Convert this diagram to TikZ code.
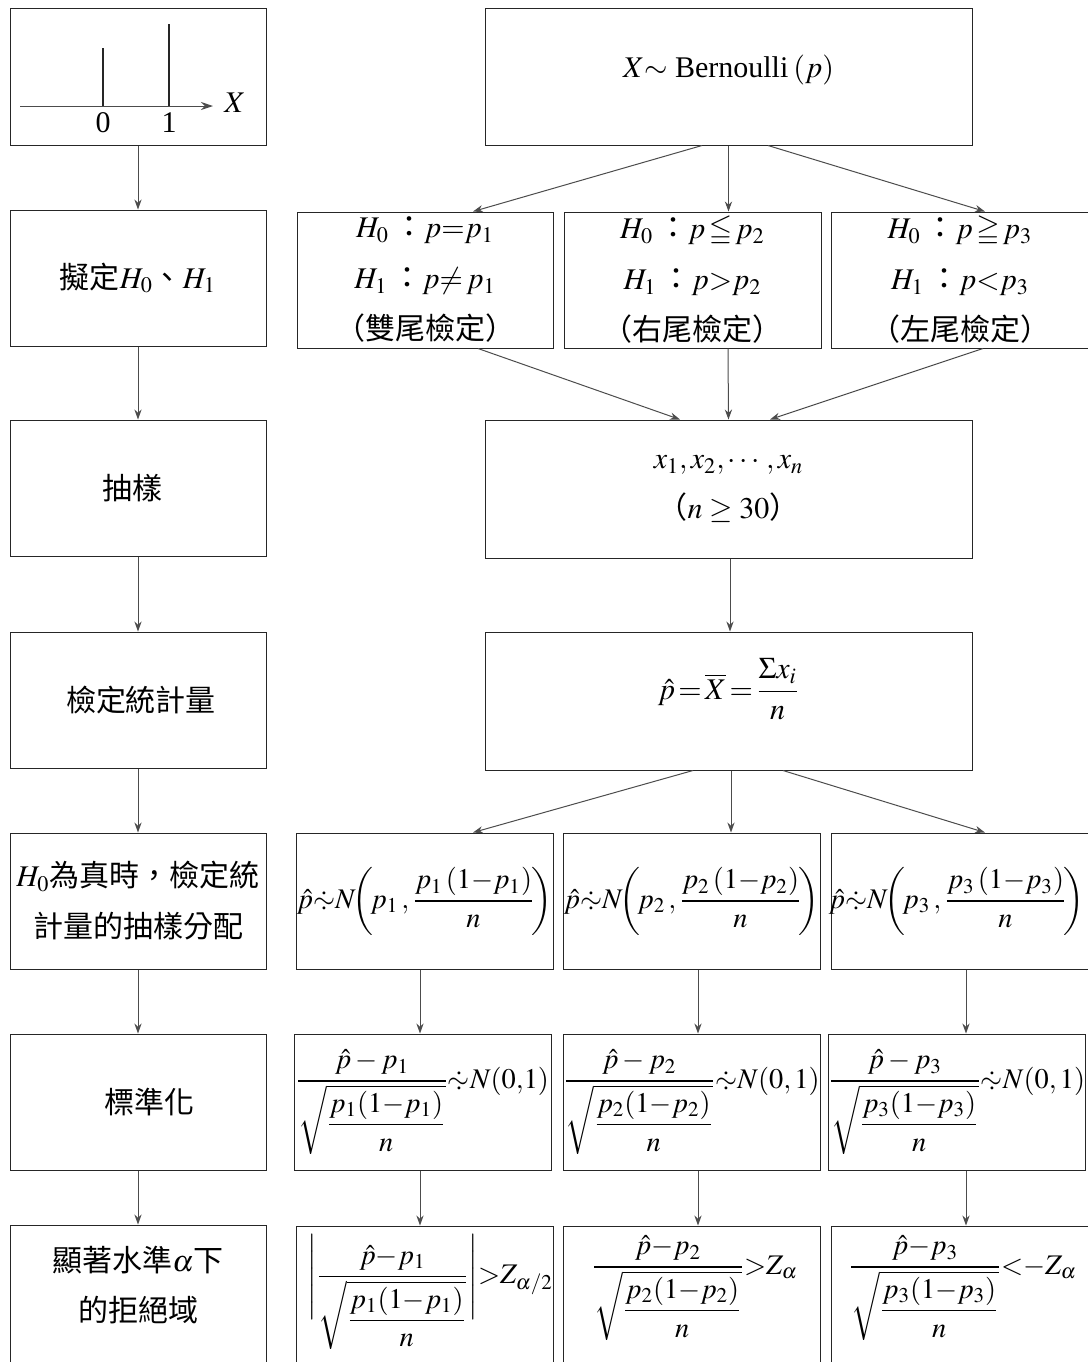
\documentclass[tikz,border=0pt]{standalone}
\usepackage{amsmath,amssymb}
\usepackage{mathptmx}
\usepackage{fontspec}
\setmainfont{Liberation Serif}
\newfontfamily\cjk{Noto Sans CJK TC}
\usetikzlibrary{arrows.meta,calc}
\newcommand{\zh}[1]{{\cjk #1}}
\newcommand{\apx}{\mathrel{\ooalign{$\sim$\cr\hidewidth\raisebox{.55ex}{$\cdot$}\hidewidth\cr\hidewidth\raisebox{-.55ex}{$\cdot$}\hidewidth\cr}}}
\tikzset{
  box/.style={draw=black!85, line width=0.5pt, minimum height=68pt, inner sep=0pt, align=center, font=\fontsize{15}{25.5}\selectfont},
  mbox/.style={box, font=\fontsize{14.2}{20}\selectfont},
  lbox/.style={box, minimum width=128pt},
  wbox/.style={box, minimum width=243.5pt},
  txt/.style={inner sep=0pt, align=center, font=\fontsize{15}{25}\selectfont},
  mtxt/.style={txt, font=\fontsize{14.2}{20}\selectfont},
  conn/.style={draw=black!70, line width=0.5pt, -{Stealth[length=5pt,width=3.6pt]}},
}
\begin{document}
\begin{tikzpicture}[x=0.5pt,y=-0.5pt]
\path[use as bounding box, clip] (0,0) rectangle (1088,1362);
% left column
\node[lbox, minimum height=68.5pt] (l1) at (138,76.5) {};
\node[lbox] (l2) at (138,278) {\zh{擬定}$H_0$\zh{、}$H_1$};
\node[lbox] (l3) at (138,488) {\hspace*{-6pt}\zh{抽樣}};
\node[lbox] (l4) at (138,700) {\hspace*{3pt}\zh{檢定統計量}};
\node[lbox] (l5) at (138,901) {$H_0$\zh{為真時，檢定統}\\\zh{計量的抽樣分配}};
\node[lbox] (l6) at (138,1102) {\hspace*{12pt}\zh{標準化}};
\node[lbox, minimum height=72pt] (l7) at (138,1297) {};
\node[txt] (l7t) at (138,1285) {\zh{顯著水準}$\alpha$\zh{下}\\\zh{的拒絕域}};
% distribution sketch
\draw[draw=black!70, line width=0.5pt, -{Stealth[length=6pt,width=4pt]}] (20,106) -- (213,106);
\draw[line width=0.6pt, black!85] (103,106) -- (103,48);
\draw[line width=0.6pt, black!85] (169,106) -- (169,24);
\node[txt] (z0) at (103,123) {0};
\node[txt] (z1) at (169,123) {1};
\node[txt] (xl) at (235,103) {$X$};
% right column
\node[wbox, minimum height=68.5pt] (r1) at (728.5,76.5) {\raisebox{0pt}[6pt][5pt]{$X{\sim}$ Bernoulli\,$(p)$}};
\node[box, minimum width=128pt] (a2) at (425,280) {$H_0$\,\zh{：}$p{=}p_1$\\$H_1$\,\zh{：}$p{\neq}\,p_1$\\\zh{\hspace*{4pt}（雙尾檢定）\hspace*{4pt}}};
\node[box, minimum width=128.5pt] (b2) at (692.5,280) {$H_0$\,\zh{：}$p\,{\leqq}\,p_2$\\$H_1$\,\zh{：}$p{>}p_2$\\\zh{\hspace*{4pt}（右尾檢定）\hspace*{4pt}}};
\node[box, minimum width=129pt] (c2) at (960,280) {$H_0$\,\zh{：}$p\,{\geqq}\,p_3$\\$H_1$\,\zh{：}$p{<}p_3$\\\zh{\hspace*{4pt}（左尾檢定）\hspace*{4pt}}};
\node[wbox, minimum height=69pt, font=\fontsize{15}{25}\selectfont] (r3) at (728.5,489) {$x_1, x_2, \cdots, x_n$\\\zh{\hspace*{4pt}（}$n\geq 30$\zh{）\hspace*{4pt}}};
\node[wbox, minimum height=69pt] (r4) at (728.5,701) {\raisebox{0pt}[8pt][9.8pt]{$\displaystyle\hat p\mkern2mu{=}\mkern2mu\overline{X}\mkern2mu{=}\mkern2mu\frac{\Sigma x_i}{n}$}};
\node[mbox, minimum width=128.5pt] (a5) at (424.5,901) {$\displaystyle\hat p{\apx}N\!\biggl(\!p_1\,,\frac{p_1\,(1{-}p_1)}{n}\!\biggr)$};
\node[mbox, minimum width=128.5pt] (b5) at (691.5,901) {$\displaystyle\hat p{\apx}N\!\biggl(\!p_2\,,\frac{p_2\,(1{-}p_2)}{n}\!\biggr)$};
\node[mbox, minimum width=129.5pt] (c5) at (960.5,901) {\hspace*{-4pt}$\displaystyle\hat p{\apx}N\!\biggl(\!p_3\,,\frac{p_3\,(1{-}p_3)}{n}\!\biggr)$};
\node[mbox, minimum width=128.5pt] (a6) at (422.5,1102) {$\displaystyle\frac{\hat p-p_1}{\sqrt{\dfrac{p_1(1{-}p_1)}{n}}}{\apx}N(0{,}1)$};
\node[mbox, minimum width=128.5pt] (b6) at (691.5,1102) {$\displaystyle\frac{\hat p-p_2}{\sqrt{\dfrac{p_2(1{-}p_2)}{n}}}{\apx}N(0,1)$};
\node[mbox, minimum width=128pt] (c6) at (957,1102) {$\displaystyle\frac{\hat p-p_3}{\sqrt{\dfrac{p_3(1{-}p_3)}{n}}}{\apx}N(0,1)$};
\node[box, minimum width=128.5pt, minimum height=72pt] (a7) at (424.5,1298) {};
\node[box, minimum width=128.5pt, minimum height=72pt] (b7) at (691.5,1298) {};
\node[box, minimum width=130.5pt, minimum height=72pt] (c7) at (961.5,1298) {};
\node[mtxt] (a7t) at (430,1292) {$\displaystyle\Biggl|\frac{\hat p{-}p_1}{\sqrt{\dfrac{p_1(1{-}p_1)}{n}}}\Biggr|{>}Z_{\alpha/2}$};
\node[mtxt] (b7t) at (695,1288) {$\displaystyle\frac{\hat p{-}p_2}{\sqrt{\dfrac{p_2(1{-}p_2)}{n}}}{>}Z_{\alpha}$};
\node[mtxt] (c7t) at (963,1288) {$\displaystyle\frac{\hat p{-}p_3}{\sqrt{\dfrac{p_3(1{-}p_3)}{n}}}{<}{-}Z_{\alpha}$};
% left arrows
\draw[conn] (l1) -- (l2);
\draw[conn] (l2) -- (l3);
\draw[conn] (l3) -- (l4);
\draw[conn] (l4) -- (l5);
\draw[conn] (l5) -- (l6);
\draw[conn] (l6) -- (l7);
% right arrows
\draw[conn] ([xshift=-13.25pt]r1.south) -- ([xshift=24pt]a2.north);
\draw[conn] ([xshift=0pt]r1.south) -- ([xshift=18pt]b2.north);
\draw[conn] ([xshift=19.75pt]r1.south) -- ([xshift=12.5pt]c2.north);
\draw[conn] ([xshift=26.5pt]a2.south) -- ([xshift=-24.25pt]r3.north);
\draw[conn] ([xshift=17.75pt]b2.south) -- ([xshift=0pt]r3.north);
\draw[conn] ([xshift=11.5pt]c2.south) -- ([xshift=20.75pt]r3.north);
\draw[conn] ([xshift=0.75pt]r3.south) -- ([xshift=0.75pt]r4.north);
\draw[conn] ([xshift=-17.75pt]r4.south) -- ([xshift=24.25pt]a5.north);
\draw[conn] ([xshift=1.25pt]r4.south) -- ([xshift=19.75pt]b5.north);
\draw[conn] ([xshift=27.25pt]r4.south) -- ([xshift=12.25pt]c5.north);
\draw[conn] ([xshift=-2.25pt]a5.south) -- ([xshift=-1.25pt]a6.north);
\draw[conn] ([xshift=3.25pt]b5.south) -- ([xshift=3.25pt]b6.north);
\draw[conn] ([xshift=2.75pt]c5.south) -- ([xshift=4.5pt]c6.north);
\draw[conn] ([xshift=-1.25pt]a6.south) -- ([xshift=-2.25pt]a7.north);
\draw[conn] ([xshift=3.25pt]b6.south) -- ([xshift=3.25pt]b7.north);
\draw[conn] ([xshift=4.5pt]c6.south) -- ([xshift=2.25pt]c7.north);
\end{tikzpicture}
\end{document}
